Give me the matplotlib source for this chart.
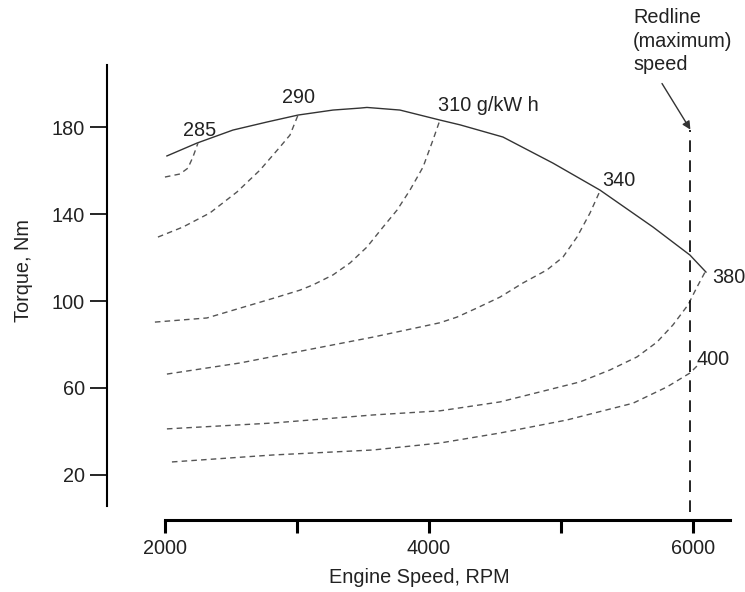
import matplotlib.pyplot as plt

plt.rcParams['font.family'] = ['Liberation Sans', 'DejaVu Sans']

# full-load torque curve (solid)
full_rpm = [2015, 2242, 2515, 2773, 3008, 3273, 3477, 3530, 3780, 4083, 4235, 4560,
            4939, 5295, 5697, 5977, 6098]
full_torque = [166.7, 172.6, 178.6, 182.3, 185.5, 187.8, 188.7, 189.0, 187.8, 183.2, 181.0,
               175.4, 163.4, 151.0, 134.0, 121.1, 113.3]

# constant BSFC contours, g/kWh
bsfc_285_rpm = [2000, 2114, 2174, 2212, 2250]
bsfc_285_torque = [157.0, 158.4, 161.1, 166.2, 172.6]

bsfc_290_rpm = [1947, 2136, 2341, 2545, 2720, 2871, 2947, 3008]
bsfc_290_torque = [129.4, 134.0, 140.5, 150.1, 160.2, 170.8, 176.3, 185.5]

bsfc_310_rpm = [1924, 2318, 2818, 3023, 3121, 3273, 3402, 3530, 3652, 3758, 3856,
                3955, 4030, 4083]
bsfc_310_torque = [90.3, 92.2, 101.2, 105.0, 107.4, 112.0, 117.5, 124.8, 134.0,
                   141.8, 151.0, 161.6, 174.0, 183.2]

bsfc_340_rpm = [2015, 2568, 3076, 3576, 4083, 4212, 4364, 4538, 4712, 4894, 5015, 5121,
                5220, 5295]
bsfc_340_torque = [66.4, 71.5, 77.5, 83.4, 90.0, 92.6, 96.8, 101.8, 108.3, 114.3, 120.2,
                   129.4, 140.5, 150.6]

bsfc_380_rpm = [2015, 2818, 3576, 4083, 4538, 5144, 5371, 5576, 5727, 5848, 5962, 6030, 6091]
bsfc_380_torque = [41.2, 43.9, 47.6, 49.5, 53.6, 62.8, 68.3, 74.3, 81.1, 89.0, 98.2, 106.4,
                   113.3]

bsfc_400_rpm = [2053, 2818, 3576, 4083, 4538, 5045, 5545, 5803, 5977, 6038]
bsfc_400_torque = [26.0, 29.2, 31.5, 34.7, 39.3, 45.3, 53.0, 60.5, 66.9, 70.6]

contours = [
    (bsfc_285_rpm, bsfc_285_torque),
    (bsfc_290_rpm, bsfc_290_torque),
    (bsfc_310_rpm, bsfc_310_torque),
    (bsfc_340_rpm, bsfc_340_torque),
    (bsfc_380_rpm, bsfc_380_torque),
    (bsfc_400_rpm, bsfc_400_torque),
]

# contour labels: (text, rpm, torque)
contour_labels = [
    ('285', 2140, 178.6),
    ('290', 2885, 193.8),
    ('310 g/kW h', 4070, 189.7),
    ('340', 5310, 155.6),
    ('380', 6145, 111.0),
    ('400', 6030, 72.9),
]

redline_rpm = 5980

x_ticks = [2000, 3000, 4000, 5000, 6000]
x_labels = ['2000', '', '4000', '', '6000']
y_ticks = [20, 60, 100, 140, 180]

txt = '#222222'
fs = 14.3

fig = plt.figure(figsize=(7.45, 5.92), dpi=100)
ax = fig.add_axes([0.1436, 0.1216, 0.843, 0.777])

ax.plot(full_rpm, full_torque, color='#333333', lw=1.0)
for rpm, tq in contours:
    ax.plot(rpm, tq, color='#555555', lw=1.0, ls=(0, (4, 3)))

ax.plot([redline_rpm, redline_rpm], [3, 178.6], color='black', lw=1.2, ls=(0, (7, 5)))

for label, x, y in contour_labels:
    ax.text(x, y, label, fontsize=fs, color=txt, ha='left', va='center')

ax.text(5545, 234.6, 'Redline\n(maximum)\nspeed', fontsize=fs, color=txt,
        ha='left', va='top', linespacing=1.3, clip_on=False)
ax.annotate('', xy=(redline_rpm, 178.8), xytext=(5765, 200.0),
            arrowprops=dict(arrowstyle='-|>', color='#333333', lw=1.0,
                            mutation_scale=12, shrinkA=0, shrinkB=0))

ax.set_xlim(1561, 6318)
ax.set_ylim(-0.7, 210.8)

for side in ['top', 'right']:
    ax.spines[side].set_visible(False)
ax.spines['left'].set_bounds(5.7, 208.5)
ax.spines['bottom'].set_bounds(2000, 6280)
ax.spines['left'].set_linewidth(1.5)
ax.spines['bottom'].set_linewidth(2.2)

ax.set_xticks(x_ticks)
ax.set_xticklabels(x_labels)
ax.set_yticks(y_ticks)
ax.tick_params(axis='x', direction='out', length=9, width=2.2, pad=5,
               labelsize=fs, labelcolor=txt)
ax.tick_params(axis='y', direction='out', length=12, width=1.2, pad=4,
               labelsize=fs, labelcolor=txt)

ax.set_xlabel('Engine Speed, RPM', fontsize=fs, color=txt)
ax.xaxis.set_label_coords(0.498, -0.104)
ax.set_ylabel('Torque, Nm', fontsize=fs, color=txt)
ax.yaxis.set_label_coords(-0.118, 0.543)

plt.savefig('out.png', dpi=100)
